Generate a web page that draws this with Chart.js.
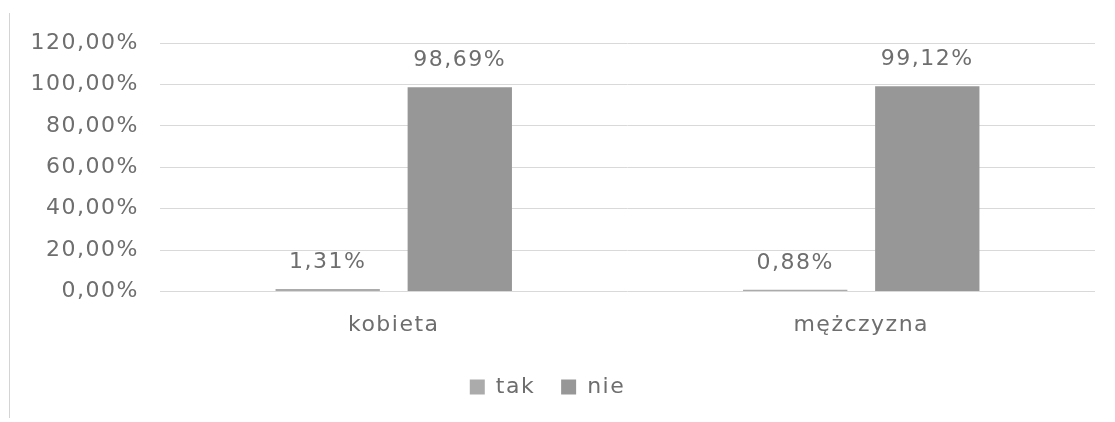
<!DOCTYPE html>
<html>
<head>
<meta charset="utf-8">
<script src="https://cdn.jsdelivr.net/npm/chart.js@4"></script>
<style>
    html, body { margin: 0; padding: 0; background: #fff; }
    #wrap { position: relative; width: 1115px; height: 422px; }
    #frame { position: absolute; left: 9px; top: 13px; width: 1px; height: 405px; background: #d4d4d4; }
</style>
</head>
<body>
<div id="wrap">
    <div id="frame"></div>
    <canvas id="chart" width="1115" height="422"></canvas>
</div>
<script>
const categories = ['kobieta', 'mężczyzna'];
const takValues = [1.31, 0.88];
const nieValues = [98.69, 99.12];
const yTicks = [0, 20, 40, 60, 80, 100, 120];

const textColor = '#6e6e6e';
const fontFamily = '"DejaVu Sans", sans-serif';

function formatPercent(v) {
    return v.toFixed(2).replace('.', ',') + '%';
}

// letter spacing to get the wide look of the original font
const spacingPlugin = {
    id: 'spacing',
    beforeLayout(chart) { chart.ctx.letterSpacing = '1.5px'; },
    beforeDraw(chart) { chart.ctx.letterSpacing = '1.5px'; }
};

const valueLabels = {
    id: 'valueLabels',
    afterDatasetsDraw(chart) {
        const ctx = chart.ctx;
        ctx.save();
        ctx.font = '22px ' + fontFamily;
        ctx.fillStyle = textColor;
        ctx.textAlign = 'center';
        ctx.textBaseline = 'alphabetic';
        chart.data.datasets.forEach((ds, i) => {
            chart.getDatasetMeta(i).data.forEach((bar, j) => {
                ctx.fillText(formatPercent(ds.data[j]), bar.x, bar.y - 21);
            });
        });
        ctx.restore();
    }
};

Chart.defaults.font.family = fontFamily;
Chart.defaults.font.size = 22;
Chart.defaults.color = textColor;

new Chart(document.getElementById('chart'), {
    type: 'bar',
    data: {
        labels: categories,
        datasets: [
            {
                label: 'tak',
                data: takValues,
                backgroundColor: '#ababab',
                categoryPercentage: 0.565,
                barPercentage: 0.79
            },
            {
                label: 'nie',
                data: nieValues,
                backgroundColor: '#979797',
                categoryPercentage: 0.565,
                barPercentage: 0.79
            }
        ]
    },
    options: {
        responsive: false,
        animation: false,
        layout: {
            padding: { top: 43, right: 20, bottom: 14, left: 0 }
        },
        plugins: {
            legend: {
                position: 'bottom',
                labels: {
                    boxWidth: 15,
                    boxHeight: 15,
                    padding: 26,
                    color: textColor,
                    font: { size: 22 }
                }
            },
            tooltip: { enabled: false }
        },
        scales: {
            x: {
                grid: { display: false },
                border: { display: false },
                ticks: { padding: 12, color: textColor }
            },
            y: {
                min: 0,
                max: 120,
                afterBuildTicks: scale => {
                    scale.ticks = yTicks.map(v => ({ value: v }));
                },
                afterFit: scale => { scale.width = 160; },
                grid: { color: '#d9d9d9', drawTicks: false },
                border: { display: false },
                ticks: {
                    padding: 21,
                    color: textColor,
                    callback: v => formatPercent(v)
                }
            }
        }
    },
    plugins: [spacingPlugin, valueLabels]
});
</script>
</body>
</html>
